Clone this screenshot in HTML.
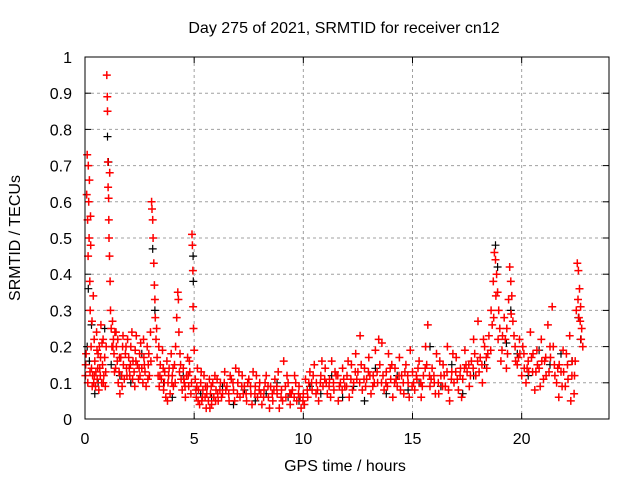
<!DOCTYPE html>
<html><head><meta charset="utf-8"><style>
html,body{margin:0;padding:0;background:#fff}
svg{display:block;font-family:"Liberation Sans",sans-serif}
</style></head><body>
<svg id="chart" width="640" height="480" viewBox="0 0 640 480" xmlns="http://www.w3.org/2000/svg">
<rect width="640" height="480" fill="#fff"/>
<text x="344" y="33" font-size="16" text-anchor="middle">Day 275 of 2021, SRMTID for receiver cn12</text>
<g id="grid"></g>
<g id="ticks"></g>
<g id="black"></g>
<g id="red"></g>
<rect x="85" y="57" width="524" height="362" fill="none" stroke="#000" stroke-width="1"/>
<text x="345" y="471" font-size="16" text-anchor="middle">GPS time / hours</text>
<text x="0" y="0" font-size="16" text-anchor="middle" transform="translate(20,238) rotate(-90)">SRMTID / TECUs</text>
</svg>
<script>
const xTicks=[0,5,10,15,20];
const yTicks=[0,0.1,0.2,0.3,0.4,0.5,0.6,0.7,0.8,0.9,1];
const yTickLabels=["0","0.1","0.2","0.3","0.4","0.5","0.6","0.7","0.8","0.9","1"];
const redPts=[[0.05,0.18],[0.08,0.62],[0.1,0.73],[0.12,0.55],[0.14,0.45],[0.15,0.7],[0.17,0.6],[0.19,0.5],[0.2,0.66],[0.22,0.38],[0.24,0.3],[0.26,0.48],[0.28,0.2],[0.3,0.14],[0.32,0.27],[0.35,0.12],[0.38,0.34],[0.4,0.1],[0.42,0.22],[0.45,0.16],[0.48,0.09],[0.5,0.13],[0.53,0.24],[0.56,0.11],[0.6,0.18],[0.63,0.08],[0.66,0.2],[0.7,0.12],[0.73,0.26],[0.76,0.1],[0.8,0.15],[0.83,0.22],[0.86,0.12],[0.9,0.17],[0.93,0.09],
[1.0,0.95],[1.02,0.89],[1.03,0.85],[1.05,0.71],[1.06,0.64],[1.08,0.61],[1.09,0.55],[1.1,0.5],[1.12,0.45],[1.13,0.68],[1.15,0.38],[1.17,0.3],[1.2,0.25],[1.23,0.2],
[1.26,0.27],[1.3,0.22],[1.33,0.18],[1.37,0.24],[1.4,0.14],[1.44,0.2],[1.48,0.16],[1.52,0.1],[1.56,0.13],[1.6,0.07],[1.64,0.17],[1.68,0.12],[1.72,0.2],[1.76,0.15],[1.8,0.11],[1.85,0.18],[1.9,0.14],[1.95,0.22],[2.0,0.17],[2.05,0.12],[2.1,0.2],[2.15,0.24],[2.2,0.16],[2.25,0.13],[2.3,0.19],[2.35,0.23],[2.4,0.15],[2.45,0.11],[2.5,0.18],[2.55,0.21],[2.6,0.14],[2.65,0.1],[2.7,0.17],[2.75,0.13],[2.8,0.09],[2.85,0.2],[2.9,0.15],[2.95,0.12],
[3.0,0.24],[3.05,0.6],[3.07,0.58],[3.1,0.55],[3.12,0.5],[3.15,0.43],[3.18,0.37],[3.2,0.33],[3.22,0.28],[3.25,0.22],[3.3,0.17],[3.35,0.12],[3.4,0.09],[3.45,0.15],[3.5,0.11],[3.55,0.19],[3.6,0.08],[3.65,0.13],[3.7,0.06],[3.75,0.16],[3.8,0.1],[3.85,0.14],[3.9,0.07],[3.95,0.18],[4.0,0.12],[4.05,0.09],[4.1,0.15],[4.15,0.2],[4.2,0.28],[4.25,0.35],[4.28,0.33],[4.3,0.24],[4.35,0.18],[4.4,0.11],[4.45,0.08],[4.5,0.14],[4.55,0.1],[4.6,0.06],[4.65,0.12],[4.7,0.17],[4.75,0.09],[4.8,0.13],[4.85,0.07],
[4.9,0.51],[4.92,0.48],[4.94,0.41],[4.95,0.31],[4.97,0.25],[5.0,0.19],[5.05,0.11],[5.1,0.06],[5.15,0.14],[5.2,0.08],[5.25,0.04],[5.3,0.1],[5.35,0.05],[5.4,0.08],[5.45,0.12],[5.5,0.06],[5.55,0.03],[5.6,0.09],[5.65,0.05],[5.7,0.11],[5.75,0.07],[5.8,0.04],[5.85,0.1],[5.9,0.06],[5.95,0.12],[6.0,0.08],[6.1,0.05],[6.2,0.1],[6.3,0.07],[6.4,0.13],[6.5,0.09],[6.6,0.05],[6.7,0.11],[6.8,0.08],[6.9,0.14],[7.0,0.1],[7.1,0.06],[7.2,0.12],[7.3,0.09],[7.4,0.05],[7.5,0.11],[7.6,0.07],[7.7,0.13],[7.8,0.09],[7.9,0.06],[8.0,0.1],[8.1,0.04],[8.2,0.08],[8.3,0.12],[8.4,0.06],[8.5,0.09],[8.6,0.05],[8.7,0.11],[8.8,0.07],[8.9,0.03],[9.0,0.08],[9.1,0.16],[9.2,0.06],[9.3,0.1],[9.4,0.04],[9.5,0.08],[9.6,0.12],[9.7,0.05],[9.8,0.09],[9.9,0.03],[10.0,0.07],
[10.1,0.11],[10.2,0.06],[10.3,0.13],[10.4,0.08],[10.5,0.15],[10.6,0.1],[10.7,0.05],[10.8,0.12],[10.9,0.09],[11.0,0.14],[11.1,0.07],[11.2,0.11],[11.3,0.16],[11.4,0.08],[11.5,0.12],[11.6,0.05],[11.7,0.1],[11.8,0.14],[11.9,0.09],[12.0,0.12],[12.1,0.06],[12.2,0.15],[12.3,0.1],[12.4,0.18],[12.5,0.13],[12.6,0.23],[12.7,0.08],[12.8,0.14],[12.9,0.11],[13.0,0.17],[13.1,0.07],[13.2,0.12],[13.3,0.19],[13.4,0.1],[13.5,0.15],[13.6,0.21],[13.7,0.08],[13.8,0.13],[13.9,0.18],[14.0,0.11],[14.1,0.06],[14.2,0.14],[14.3,0.09],[14.4,0.17],[14.5,0.12],[14.6,0.07],[14.7,0.15],[14.8,0.1],[14.9,0.19],[15.0,0.13],[15.1,0.08],[15.2,0.11],[15.3,0.16],[15.4,0.06],[15.5,0.12],[15.6,0.2],[15.7,0.26],[15.8,0.09],[15.9,0.14],[16.0,0.1],[16.1,0.18],[16.2,0.07],[16.3,0.12],[16.4,0.15],[16.5,0.09],[16.6,0.2],[16.7,0.05],[16.8,0.13],[16.9,0.1],[17.0,0.17],[17.1,0.08],[17.2,0.14],[17.3,0.11],[17.4,0.19],[17.5,0.13],[17.6,0.09],[17.7,0.16],[17.8,0.22],[17.9,0.12],[18.0,0.27],[18.1,0.17],[18.2,0.1],[18.3,0.2],[18.4,0.14],[18.5,0.23],[18.6,0.3],[18.7,0.38],[18.75,0.46],[18.8,0.44],[18.85,0.4],[18.9,0.35],[18.95,0.3],[19.0,0.25],[19.1,0.19],[19.2,0.28],[19.3,0.14],[19.4,0.33],[19.45,0.42],[19.5,0.38],[19.55,0.34],[19.6,0.27],[19.7,0.2],[19.8,0.15],[19.9,0.22],[20.0,0.12],[20.1,0.18],[20.2,0.1],[20.3,0.16],[20.4,0.24],[20.5,0.13],[20.6,0.08],[20.7,0.19],[20.8,0.14],[20.9,0.22],[21.0,0.11],[21.1,0.17],[21.2,0.26],[21.3,0.2],[21.4,0.31],[21.5,0.15],[21.6,0.1],[21.7,0.06],[21.8,0.13],[21.9,0.19],[22.0,0.09],[22.1,0.15],[22.2,0.23],[22.3,0.12],[22.4,0.07],[22.5,0.3],[22.55,0.43],[22.6,0.41],[22.65,0.36],[22.7,0.31],[22.75,0.25],[22.8,0.2]];
const redPtsB=[[0.02,0.12],[0.25,0.56],[0.55,0.19],[0.68,0.14],[0.78,0.21],[0.95,0.13],[1.35,0.13],[1.5,0.22],[1.7,0.09],[1.88,0.2],[2.08,0.15],[2.28,0.09],[2.48,0.14],[2.68,0.22],[2.88,0.11],[3.38,0.2],[3.58,0.14],[3.78,0.05],[3.98,0.1],[4.38,0.15],[4.58,0.09],[4.78,0.16],[5.12,0.09],[5.32,0.13],[5.52,0.09],[5.72,0.03],[6.05,0.11],[6.25,0.06],[6.45,0.08],[6.65,0.12],[6.85,0.05],[7.05,0.13],[7.25,0.07],[7.45,0.1],[7.65,0.04],[7.85,0.12],[8.05,0.07],[8.25,0.1],[8.45,0.03],[8.65,0.08],[8.85,0.13],[9.05,0.05],[9.25,0.12],[9.45,0.07],[9.65,0.1],[9.85,0.06],[10.05,0.04],[10.25,0.1],[10.45,0.12],[10.65,0.08],[10.85,0.16],[11.05,0.1],[11.25,0.06],[11.45,0.13],[11.65,0.09],[11.85,0.11],[12.05,0.16],[12.25,0.08],[12.45,0.11],[12.65,0.15],[12.85,0.09],[13.05,0.12],[13.25,0.1],[13.45,0.22],[13.65,0.12],[13.85,0.09],[14.05,0.15],[14.25,0.11],[14.45,0.08],[14.65,0.13],[14.85,0.06],[15.05,0.1],[15.25,0.14],[15.45,0.09],[15.65,0.15],[15.85,0.11],[16.05,0.07],[16.25,0.16],[16.45,0.12],[16.65,0.08],[16.85,0.18],[17.05,0.11],[17.25,0.06],[17.45,0.15],[17.65,0.12],[17.85,0.18],[18.05,0.13],[18.25,0.22],[18.45,0.18],[18.65,0.26],[18.82,0.34],[19.05,0.16],[19.25,0.22],[19.35,0.18],[19.65,0.23],[19.85,0.17],[20.05,0.2],[20.25,0.14],[20.45,0.17],[20.65,0.13],[20.85,0.09],[21.05,0.16],[21.25,0.13],[21.45,0.2],[21.65,0.14],[21.85,0.09],[22.05,0.18],[22.25,0.05],[22.45,0.16],[22.62,0.28],[22.72,0.22]];
const redPtsC=[[0.03,0.15],[0.13,0.1],[0.23,0.13],[0.33,0.09],[0.43,0.12],[0.58,0.14],[0.71,0.17],[0.84,0.1],[0.97,0.2],[1.28,0.2],[1.42,0.24],[1.58,0.17],[1.74,0.23],[1.92,0.12],[2.03,0.14],[2.18,0.11],[2.33,0.16],[2.52,0.12],[2.72,0.15],[2.92,0.18],[3.02,0.16],[3.28,0.25],[3.43,0.12],[3.63,0.1],[3.83,0.12],[4.03,0.14],[4.13,0.1],[4.33,0.13],[4.53,0.11],[4.73,0.12],[4.88,0.1],[5.08,0.08],[5.18,0.05],[5.38,0.06],[5.58,0.07],[5.78,0.09],[5.98,0.05],[6.08,0.07],[6.18,0.08],[6.38,0.1],[6.58,0.07],[6.78,0.1],[6.98,0.07],[7.18,0.09],[7.38,0.07],[7.58,0.09],[7.78,0.07],[7.98,0.08],[8.18,0.06],[8.38,0.09],[8.58,0.07],[8.78,0.09],[8.98,0.06],[9.18,0.09],[9.38,0.07],[9.58,0.06],[9.78,0.07],[9.98,0.05],[10.18,0.08],[10.38,0.1],[10.58,0.07],[10.78,0.1],[10.98,0.11],[11.18,0.09],[11.38,0.1],[11.58,0.12],[11.78,0.08],[11.98,0.09],[12.18,0.11],[12.38,0.13],[12.58,0.1],[12.78,0.11],[12.98,0.13],[13.18,0.09],[13.38,0.13],[13.58,0.1],[13.78,0.1],[13.98,0.14],[14.18,0.1],[14.38,0.12],[14.58,0.1],[14.78,0.12],[14.98,0.09],[15.18,0.12],[15.38,0.1],[15.58,0.14],[15.78,0.12],[15.98,0.12],[16.18,0.1],[16.38,0.09],[16.58,0.13],[16.78,0.11],[16.98,0.13],[17.18,0.12],[17.38,0.14],[17.58,0.15],[17.78,0.14],[17.98,0.16],[18.18,0.15],[18.38,0.17],[18.58,0.19],[18.72,0.28],[18.92,0.22],[19.12,0.23],[19.32,0.25],[19.52,0.29],[19.72,0.16],[19.92,0.18],[20.12,0.14],[20.32,0.13],[20.52,0.18],[20.72,0.15],[20.92,0.16],[21.12,0.12],[21.32,0.17],[21.52,0.12],[21.72,0.15],[21.92,0.13],[22.12,0.11],[22.32,0.16],[22.42,0.12],[22.58,0.33],[22.68,0.27]];
const blackPts=[[0.1,0.2],[0.15,0.36],[0.2,0.16],[0.3,0.26],[0.45,0.07],[0.6,0.1],[0.9,0.25],[1.03,0.78],[1.07,0.71],[1.2,0.15],[1.6,0.12],[2.1,0.1],[2.6,0.18],[3.1,0.47],[3.2,0.3],[3.6,0.1],[4.0,0.06],[4.5,0.12],[4.95,0.45],[4.96,0.38],[5.3,0.07],[5.8,0.06],[6.3,0.09],[6.8,0.04],[7.3,0.08],[7.8,0.05],[8.3,0.07],[8.8,0.1],[9.3,0.06],[9.8,0.05],[10.3,0.09],[10.8,0.07],[11.3,0.12],[11.8,0.06],[12.3,0.09],[12.8,0.05],[13.3,0.14],[13.8,0.07],[14.3,0.12],[14.8,0.08],[15.3,0.1],[15.8,0.2],[16.3,0.09],[16.8,0.15],[17.3,0.07],[17.8,0.12],[18.3,0.15],[18.8,0.48],[18.9,0.42],[19.3,0.21],[19.5,0.3],[19.8,0.18],[20.3,0.12],[20.8,0.19],[21.3,0.15],[21.8,0.18],[22.3,0.16],[22.6,0.28],[22.7,0.22]];

const NS="http://www.w3.org/2000/svg";
function xs(t){return 85+t*(524/24);}
function ys(v){return 419-v*362;}
const grid=document.getElementById('grid'), ticks=document.getElementById('ticks');
function mk(tag,attrs,parent){const e=document.createElementNS(NS,tag);for(const k in attrs)e.setAttribute(k,attrs[k]);parent.appendChild(e);return e;}
yTicks.forEach((v,i)=>{
  const y=ys(v);
  if(v>0&&v<1){const g=mk('line',{x1:85,x2:609,y1:y,y2:y,stroke:'#a0a0a0','stroke-dasharray':'3,3','stroke-width':1},grid);
  
  }
  mk('line',{x1:85,x2:91,y1:y,y2:y,stroke:'#000'},ticks);
  mk('line',{x1:603,x2:609,y1:y,y2:y,stroke:'#000'},ticks);
  const t=mk('text',{x:72,y:y+6,'font-size':16,'text-anchor':'end'},ticks);
  t.textContent=yTickLabels[i];
  
  
});
xTicks.forEach(v=>{
  const x=xs(v);
  if(v>0){const g=mk('line',{x1:x,x2:x,y1:57,y2:419,stroke:'#a0a0a0','stroke-dasharray':'3,3','stroke-width':1},grid);
  
  }
  mk('line',{x1:x,x2:x,y1:413,y2:419,stroke:'#000'},ticks);
  mk('line',{x1:x,x2:x,y1:57,y2:63,stroke:'#000'},ticks);
  const t=mk('text',{x:x,y:444,'font-size':16,'text-anchor':'middle'},ticks);
  t.textContent=String(v);
  
  
});
function plus(pts,color,g,name,w){
  let d='';
  pts.forEach(p=>{const x=+xs(p[0]).toFixed(1),y=+ys(p[1]).toFixed(1);
    d+=`M${x-4} ${y}h8M${x} ${y-4}v8`;});
  const path=mk('path',{d:d,stroke:color,'stroke-width':w,fill:'none'},g);
  
  
}
plus(blackPts,'#000',document.getElementById('black'),'black-points',1.2);
plus(redPts,'#ff0000',document.getElementById('red'),'red-points',1.5);
plus(redPtsB,'#ff0000',document.getElementById('red'),'red-points-extra',1.5);
plus(redPtsC,'#ff0000',document.getElementById('red'),'red-points-extra-2',1.5);
</script>
</body></html>
